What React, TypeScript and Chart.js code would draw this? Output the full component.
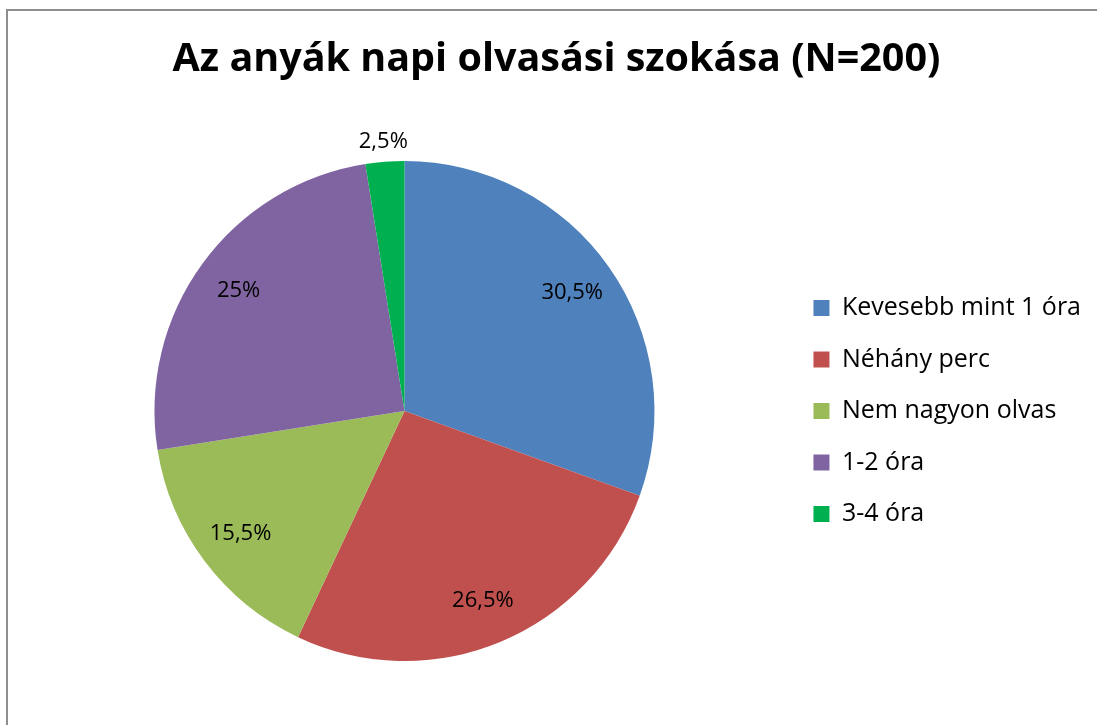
import React, { useEffect, useRef } from "react";
import { Chart, registerables } from "chart.js";

Chart.register(...registerables);

const TITLE = "Az anyák napi olvasási szokása (N=200)";
const categories = [
  "Kevesebb mint 1 óra",
  "Néhány perc",
  "Nem nagyon olvas",
  "1-2 óra",
  "3-4 óra",
];
const values = [30.5, 26.5, 15.5, 25, 2.5];
const colors = ["#4F81BD", "#C0504D", "#9BBB59", "#8064A2", "#00B050"];

const FONT = "'Open Sans', 'Liberation Sans', sans-serif";

const formatPct = (v: number) => String(v).replace(".", ",") + "%";

const labelPlugin = {
  id: "sliceLabels",
  afterDatasetsDraw(chart: any) {
    const ctx = chart.ctx;
    const meta = chart.getDatasetMeta(0);
    const data = chart.data.datasets[0].data as number[];
    ctx.save();
    ctx.font = `22px ${FONT}`;
    ctx.fillStyle = "#000";
    ctx.textAlign = "center";
    ctx.textBaseline = "middle";
    meta.data.forEach((arc: any, i: number) => {
      const { x, y, startAngle, endAngle, outerRadius } = arc.getProps(
        ["x", "y", "startAngle", "endAngle", "outerRadius"],
        true
      );
      const mid = (startAngle + endAngle) / 2;
      const small = data[i] < 5;
      const r = small ? outerRadius * 1.08 : outerRadius * 0.82;
      ctx.fillText(formatPct(data[i]), x + Math.cos(mid) * r, y + Math.sin(mid) * r);
    });
    ctx.restore();
  },
};

export default function App() {
  const ref = useRef<HTMLCanvasElement | null>(null);
  useEffect(() => {
    if (!ref.current) return;
    const chart = new Chart(ref.current, {
      type: "pie",
      data: {
        labels: categories,
        datasets: [
          {
            data: values,
            backgroundColor: colors,
            borderWidth: 0,
          },
        ],
      },
      options: {
        animation: false,
        responsive: false,
        layout: { padding: { left: 22, right: 6, top: 0, bottom: 64 } },
        plugins: {
          title: {
            display: true,
            text: TITLE,
            color: "#000",
            font: { family: FONT, size: 39.5, weight: "bold", lineHeight: 1.2 },
            padding: { top: 36, bottom: 77.6 },
          },
          legend: {
            position: "right",
            align: "center",
            fullSize: false,
            labels: {
              color: "#000",
              font: { family: FONT, size: 25 },
              boxWidth: 16,
              boxHeight: 16,
              padding: 26.5,
            },
          },
          tooltip: { enabled: false },
        },
      },
      plugins: [labelPlugin],
    });
    return () => chart.destroy();
  }, []);

  return (
    <div
      style={{
        position: "fixed",
        left: 0,
        top: 0,
        width: 1097,
        height: 725,
        background: "#fff",
        overflow: "hidden",
      }}
    >
      <div
        style={{
          position: "absolute",
          left: 6,
          top: 9,
          width: 1200,
          height: 900,
          borderLeft: "2px solid #8e8e8e",
          borderTop: "2px solid #8e8e8e",
        }}
      />
      <canvas
        ref={ref}
        width={1097}
        height={725}
        style={{ position: "absolute", left: 0, top: 0, width: 1097, height: 725 }}
      />
    </div>
  );
}
